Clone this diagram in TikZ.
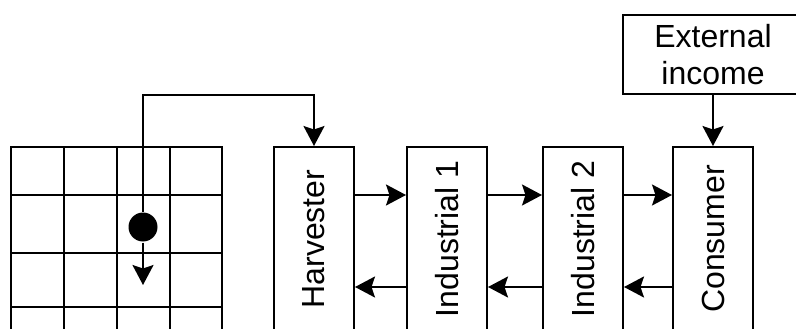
\documentclass[tikz,border=0pt]{standalone}
\usepackage{fontspec}
\setmainfont{Liberation Sans}
\usetikzlibrary{arrows.meta}
\begin{document}
\begin{tikzpicture}[x=1pt,y=-1pt,line width=2pt,
  box/.style={draw,line width=2pt,inner sep=0pt,font=\fontsize{32}{37}\selectfont},
  agent/.style={box,minimum width=80pt,minimum height=184pt},
  arr/.style={-{Stealth[length=20pt,width=21pt,inset=3.5pt]}},
  gridline/.style={line width=2pt,line cap=rect}]
\useasboundingbox (0,0) rectangle (796,329);
\clip (0,0) rectangle (796,329);

% spatial grid
\foreach \x in {11,64,117,170,222} \draw[gridline] (\x,147) -- (\x,345);
\foreach \y in {147,195,253,307} \draw[gridline] (11,\y) -- (222,\y);

% agent position and its move
\node[circle,fill,inner sep=0pt,minimum size=29pt] (dot) at (143,227) {};
\coordinate (move) at (143,285);
\coordinate (bend) at (143,95);

% sectors
\node[agent] (harv) at (314,239) {\rotatebox{90}{Harvester}};
\node[agent] (ind1) at (447,239) {\rotatebox{90}{Industrial 1}};
\node[agent] (ind2) at (583,239) {\rotatebox{90}{Industrial 2}};
\node[agent] (cons) at (713,239) {\rotatebox{90}{Consumer}};
\node[box,minimum width=180pt,minimum height=79pt,align=center] (ext) at (713,54.5) {External\\income};

% connectors
\draw[arr] (dot) -- (move);
\draw[arr] (dot) -- (bend) -| (harv.north);
\draw[arr] (ext) -- (cons);

\draw[arr] ([yshift=44pt]harv.east) -- ([yshift=44pt]ind1.west);
\draw[arr] ([yshift=44pt]ind1.east) -- ([yshift=44pt]ind2.west);
\draw[arr] ([yshift=44pt]ind2.east) -- ([yshift=44pt]cons.west);

\draw[arr] ([yshift=-48pt]ind1.west) -- ([yshift=-48pt]harv.east);
\draw[arr] ([yshift=-48pt]ind2.west) -- ([yshift=-48pt]ind1.east);
\draw[arr] ([yshift=-48pt]cons.west) -- ([yshift=-48pt]ind2.east);
\end{tikzpicture}
\end{document}
